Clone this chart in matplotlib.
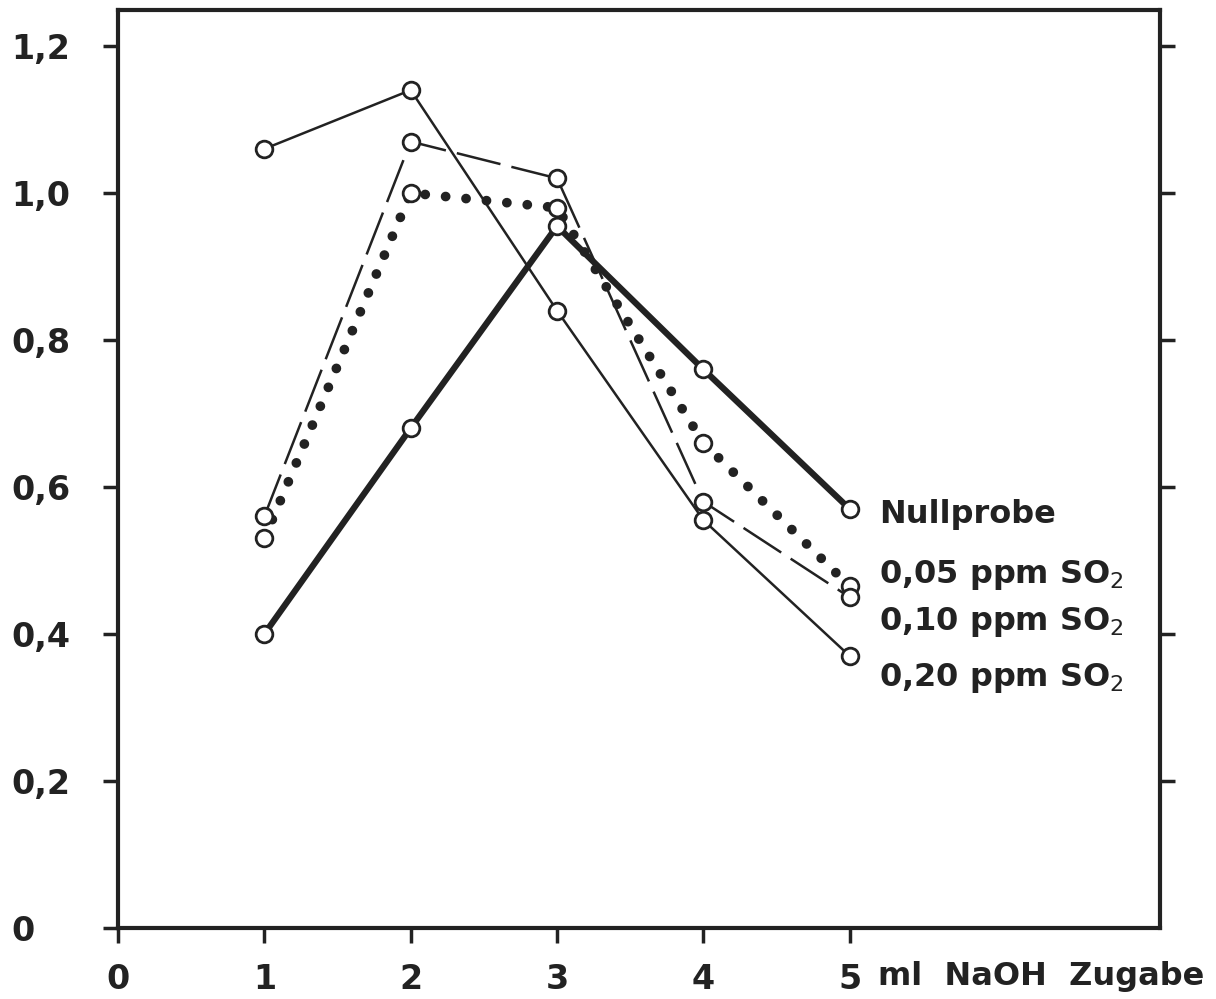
import matplotlib
matplotlib.use("Agg")
import matplotlib.pyplot as plt

# ml NaOH Zugabe
x = [1, 2, 3, 4, 5]

# Extinktion je Probe
nullprobe = [0.40, 0.68, 0.955, 0.76, 0.57]
so2_005 = [0.53, 1.00, 0.98, 0.66, 0.465]
so2_010 = [0.56, 1.07, 1.02, 0.58, 0.45]
so2_020 = [1.06, 1.14, 0.84, 0.555, 0.37]

labels = ["Nullprobe", "0,05 ppm SO$_2$", "0,10 ppm SO$_2$", "0,20 ppm SO$_2$"]
label_y = [0.562, 0.48, 0.416, 0.34]

yticks = [0, 0.2, 0.4, 0.6, 0.8, 1.0, 1.2]
ytick_labels = ["0", "0,2", "0,4", "0,6", "0,8", "1,0", "1,2"]
xticks = [0, 1, 2, 3, 4, 5]

ink = "#222222"
plt.rcParams["font.family"] = ["DejaVu Sans"]

fig = plt.figure(figsize=(12.16, 9.99), dpi=100)
ax = fig.add_axes([0.097, 0.071, 0.857, 0.919])
ax.set_xlim(0, 7.12)
ax.set_ylim(0, 1.249)

# Linien
ax.plot(x, nullprobe, color=ink, lw=4.5, solid_capstyle="round", zorder=3)
ax.plot(x, so2_005, color=ink, lw=7, linestyle=(0, (0.01, 2.1)),
        dash_capstyle="round", zorder=3)
ax.plot(x, so2_010, color=ink, lw=1.8, linestyle=(0, (18, 4.5)), zorder=3)
ax.plot(x, so2_020, color=ink, lw=1.8, zorder=3)

# Messpunkte als offene Kreise
for ys in [nullprobe, so2_005, so2_010, so2_020]:
    ax.plot(x, ys, linestyle="none", marker="o", markersize=12,
            markerfacecolor="white", markeredgecolor=ink, markeredgewidth=2,
            zorder=4)

# Beschriftung der Kurven
for lab, ly in zip(labels, label_y):
    ax.text(5.2, ly, lab, fontsize=23, fontweight="bold", color=ink,
            va="center", ha="left")

ax.text(5.19, -0.066, "ml  NaOH  Zugabe", fontsize=23, fontweight="bold",
        color=ink, va="center", ha="left", clip_on=False)

for s in ax.spines.values():
    s.set_linewidth(3)
    s.set_color(ink)

ax.set_yticks(yticks)
ax.set_yticklabels(ytick_labels, fontsize=24, fontweight="bold", color=ink)
for t in ax.get_yticklabels():
    t.set_horizontalalignment("left")
ax.tick_params(axis="y", direction="out", length=11, width=2.5, color=ink,
               pad=66, right=True)
ax.set_xticks(xticks)
ax.set_xticklabels([str(v) for v in xticks], fontsize=24, fontweight="bold",
                   color=ink)
ax.tick_params(axis="x", direction="out", length=11, width=2.5, color=ink,
               pad=14)

# Rechte Achse: Ticks ohne Beschriftung, ohne 0
ax2 = ax.twinx()
ax2.set_ylim(ax.get_ylim())
ax2.set_yticks(yticks[1:])
ax2.set_yticklabels([])
ax2.tick_params(axis="y", direction="out", length=11, width=2.5, color=ink)
ax.tick_params(axis="y", right=False)
for s in ax2.spines.values():
    s.set_visible(False)

fig.savefig("out.png", dpi=100, facecolor="white")
